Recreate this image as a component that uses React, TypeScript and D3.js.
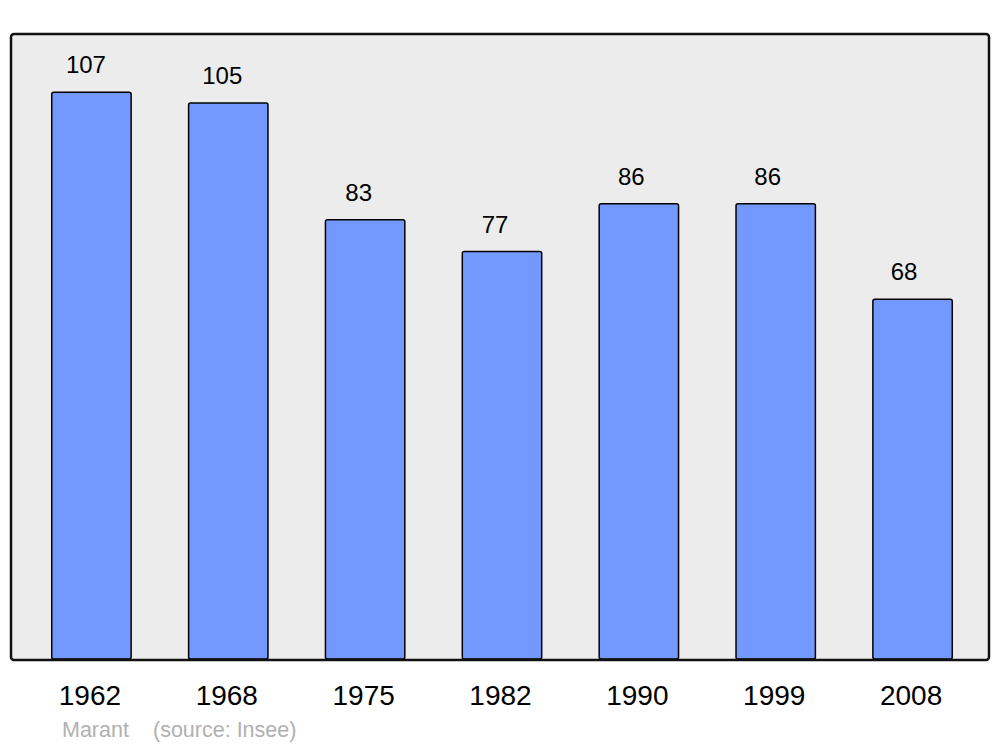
import React from "react";
import * as d3 from "d3";

const years = ["1962", "1968", "1975", "1982", "1990", "1999", "2008"];
const population = [107, 105, 83, 77, 86, 86, 68];
const commune = "Marant";
const source = "(source: Insee)";

const W = 1000;
const H = 747;
const frame = { left: 11, top: 34, right: 989, bottom: 660 };

export default function App() {
  const x = d3
    .scaleBand<string>()
    .domain(years)
    .range([23, 981])
    .paddingInner(0.42)
    .paddingOuter(0.21);
  const y = d3.scaleLinear().domain([0, 118]).range([frame.bottom, frame.top]);
  const font = "'Liberation Sans', Arial, sans-serif";

  return (
    <div style={{ position: "absolute", left: 0, top: 0 }}>
      <svg width={W} height={H} style={{ display: "block" }} fontFamily={font}>
        <rect x={0} y={0} width={W} height={H} fill="#ffffff" />
        <rect
          x={frame.left}
          y={frame.top}
          width={frame.right - frame.left}
          height={frame.bottom - frame.top}
          rx={3}
          fill="#ececec"
        />
        {years.map((yr, i) => {
          const bx = x(yr)!;
          const by = y(population[i]);
          const cx = bx + x.bandwidth() / 2;
          return (
            <g key={yr}>
              <rect
                x={bx}
                y={by}
                width={x.bandwidth()}
                height={frame.bottom - by - 1}
                rx={2}
                fill="#7399ff"
                stroke="#000"
                strokeWidth={1.5}
              />
              <text
                x={cx - 5.5 - i * 0.5}
                y={by - 19}
                textAnchor="middle"
                fontSize={24}
                fill="#000"
              >
                {population[i]}
              </text>
              <text
                x={cx - 1.5}
                y={705}
                textAnchor="middle"
                fontSize={28}
                fill="#000"
              >
                {yr}
              </text>
            </g>
          );
        })}
        <rect
          x={frame.left}
          y={frame.top}
          width={frame.right - frame.left}
          height={frame.bottom - frame.top}
          rx={3}
          fill="none"
          stroke="#111"
          strokeWidth={2.5}
        />
        <text x={62} y={737} fontSize={21.5} fill="#b0b0b0">
          {commune}
        </text>
        <text x={153} y={737} fontSize={21.5} fill="#b0b0b0">
          {source}
        </text>
      </svg>
    </div>
  );
}
